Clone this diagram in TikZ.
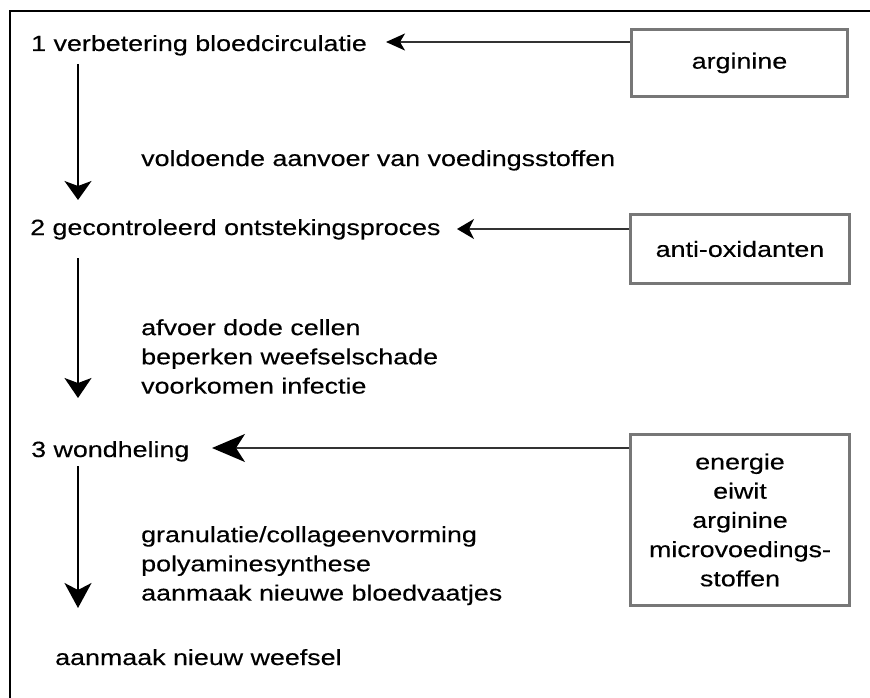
\documentclass[tikz,border=0pt]{standalone}
\usepackage{fontspec}
\setmainfont[FakeStretch=1.22, FakeBold=0.35]{Liberation Sans}
\usetikzlibrary{arrows.meta}
\definecolor{boxgray}{HTML}{777777}
\definecolor{linegray}{HTML}{333333}
\begin{document}
\begin{tikzpicture}[x=1pt,y=-1pt,
  every node/.style={font=\fontsize{22}{29.2}\selectfont, text=black},
  lbl/.style={anchor=base west, inner sep=0pt},
  infobox/.style={draw=boxgray, line width=3pt, inner sep=0pt, align=center},
  varrow/.style={line width=2pt, draw=black},
  harrow/.style={line width=1.6pt, draw=linegray}
]
\useasboundingbox (0,0) rectangle (870,698);
\begin{scope}
\clip (0,0) rectangle (870,698);
\draw[line width=2.2pt, black] (10,11) rectangle (900,730);
\end{scope}

% step texts
\node[lbl] (s1) at (31,51) {1 verbetering bloedcirculatie};
\node[lbl] (s2) at (30,235) {2 gecontroleerd ontstekingsproces};
\node[lbl] (s3) at (31,457) {3 wondheling};
\node[lbl] (t1) at (141,166) {voldoende aanvoer van voedingsstoffen};
\node[lbl, align=left, anchor=north west] (t2) at (141,319) {afvoer dode cellen\\beperken weefselschade\\voorkomen infectie};
\node[lbl, align=left, anchor=north west] (t3) at (141,526) {granulatie/collageenvorming\\polyaminesynthese\\aanmaak nieuwe bloedvaatjes};
\node[lbl] (s4) at (55,665) {aanmaak nieuw weefsel};

% boxes
\node[infobox, minimum width=216pt, minimum height=67pt] (b1) at (739.5,63) {arginine};
\node[infobox, minimum width=219pt, minimum height=69pt] (b2) at (740,249) {anti-oxidanten};
\node[infobox, minimum width=219pt, minimum height=171pt] (b3) at (740,520) {energie\\eiwit\\arginine\\microvoedings-\\stoffen};

% arrow coordinates
\coordinate (h1) at (386,42);
\coordinate (h2) at (457,229);
\coordinate (h3) at (212,448);
\coordinate (v1s) at (78,64);
\coordinate (v1e) at (78,200);
\coordinate (v2s) at (78,258);
\coordinate (v2e) at (78,398);
\coordinate (v3s) at (78,466);
\coordinate (v3e) at (78,608);

% horizontal arrows
\draw[harrow, -{Stealth[length=19pt, width=17pt, inset=5pt, color=black]}] (b1.west |- h1) -- (h1);
\draw[harrow, -{Stealth[length=17pt, width=20pt, inset=5pt, color=black]}] (b2.west |- h2) -- (h2);
\draw[harrow, -{Stealth[length=33pt, width=28pt, inset=9pt, color=black]}] (b3.west |- h3) -- (h3);

% vertical arrows
\draw[varrow, -{Stealth[length=19pt, width=27pt, inset=5pt, fill=black]}] (v1s) -- (v1e);
\draw[varrow, -{Stealth[length=20pt, width=27pt, inset=5pt, fill=black]}] (v2s) -- (v2e);
\draw[varrow, -{Stealth[length=25pt, width=27pt, inset=7pt, fill=black]}] (v3s) -- (v3e);
\end{tikzpicture}
\end{document}
